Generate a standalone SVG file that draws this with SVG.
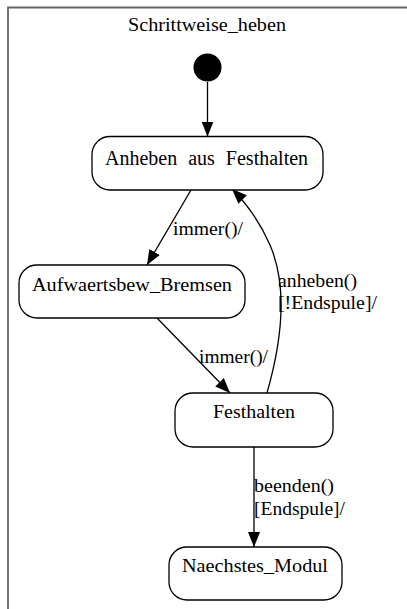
<svg xmlns="http://www.w3.org/2000/svg" width="407" height="609" viewBox="0 0 407 609">
<style>
text{font-family:"Liberation Serif","Times New Roman",serif;fill:#000}
.n{font-size:19px;text-anchor:start}
.l{font-size:18px}
.st{fill:#fff;stroke:#000;stroke-width:1.3}
.e{fill:none;stroke:#000;stroke-width:1.3;marker-end:url(#ah)}
</style>
<defs>
<marker id="ah" markerUnits="userSpaceOnUse" markerWidth="15" markerHeight="12" refX="15" refY="6" orient="auto">
<path d="M0,0 L15,6 L0,12 z" fill="#000"/>
</marker>
</defs>
<rect width="407" height="609" fill="#fff"/>
<g id="frame">
<path d="M8,609 L8,7.5 L407,7.5" fill="none" stroke="#666" stroke-width="1.8"/>
<text x="128" y="31" class="l" textLength="158" lengthAdjust="spacingAndGlyphs">Schrittweise_heben</text>
</g>
<g id="connectors">
<path class="e" d="M207.5,82 L207.5,136.5"/>
<path class="e" d="M191,190 L147,265"/>
<path class="e" d="M157,318 L230,393"/>
<path class="e" d="M267,393 C285,330 285,280 270,245 C259,220 246,203 232,189"/>
<path class="e" d="M254,447 L254,547"/>
<text x="173" y="235" class="l" textLength="70" lengthAdjust="spacingAndGlyphs">immer()/</text>
<text x="199" y="363" class="l" textLength="69" lengthAdjust="spacingAndGlyphs">immer()/</text>
<text x="278" y="287" class="l" textLength="79" lengthAdjust="spacingAndGlyphs">anheben()</text>
<text x="278" y="309" class="l" textLength="99" lengthAdjust="spacingAndGlyphs">[!Endspule]/</text>
<text x="254" y="492" class="l" textLength="80" lengthAdjust="spacingAndGlyphs">beenden()</text>
<text x="254" y="515" class="l" textLength="91" lengthAdjust="spacingAndGlyphs">[Endspule]/</text>
</g>
<g id="initial">
<circle cx="207.5" cy="67.5" r="14" fill="#000"/>
</g>
<g id="anheben_aus_festhalten">
<rect class="st" x="92" y="136.5" width="231" height="53.5" rx="18" ry="18"/>
<text x="105" y="165" font-size="20" word-spacing="6">Anheben aus Festhalten</text>
</g>
<g id="aufwaertsbew_bremsen">
<rect class="st" x="19" y="265" width="226" height="53" rx="18" ry="18"/>
<text x="32" y="290.5" class="n" textLength="200" lengthAdjust="spacingAndGlyphs">Aufwaertsbew_Bremsen</text>
</g>
<g id="festhalten">
<rect class="st" x="175" y="393" width="158" height="54" rx="18" ry="18"/>
<text x="213" y="418" class="n" textLength="82" lengthAdjust="spacingAndGlyphs">Festhalten</text>
</g>
<g id="naechstes_modul">
<rect class="st" x="169" y="547" width="173" height="53" rx="18" ry="18"/>
<text x="182" y="572" class="n" textLength="146" lengthAdjust="spacingAndGlyphs">Naechstes_Modul</text>
</g>
</svg>
